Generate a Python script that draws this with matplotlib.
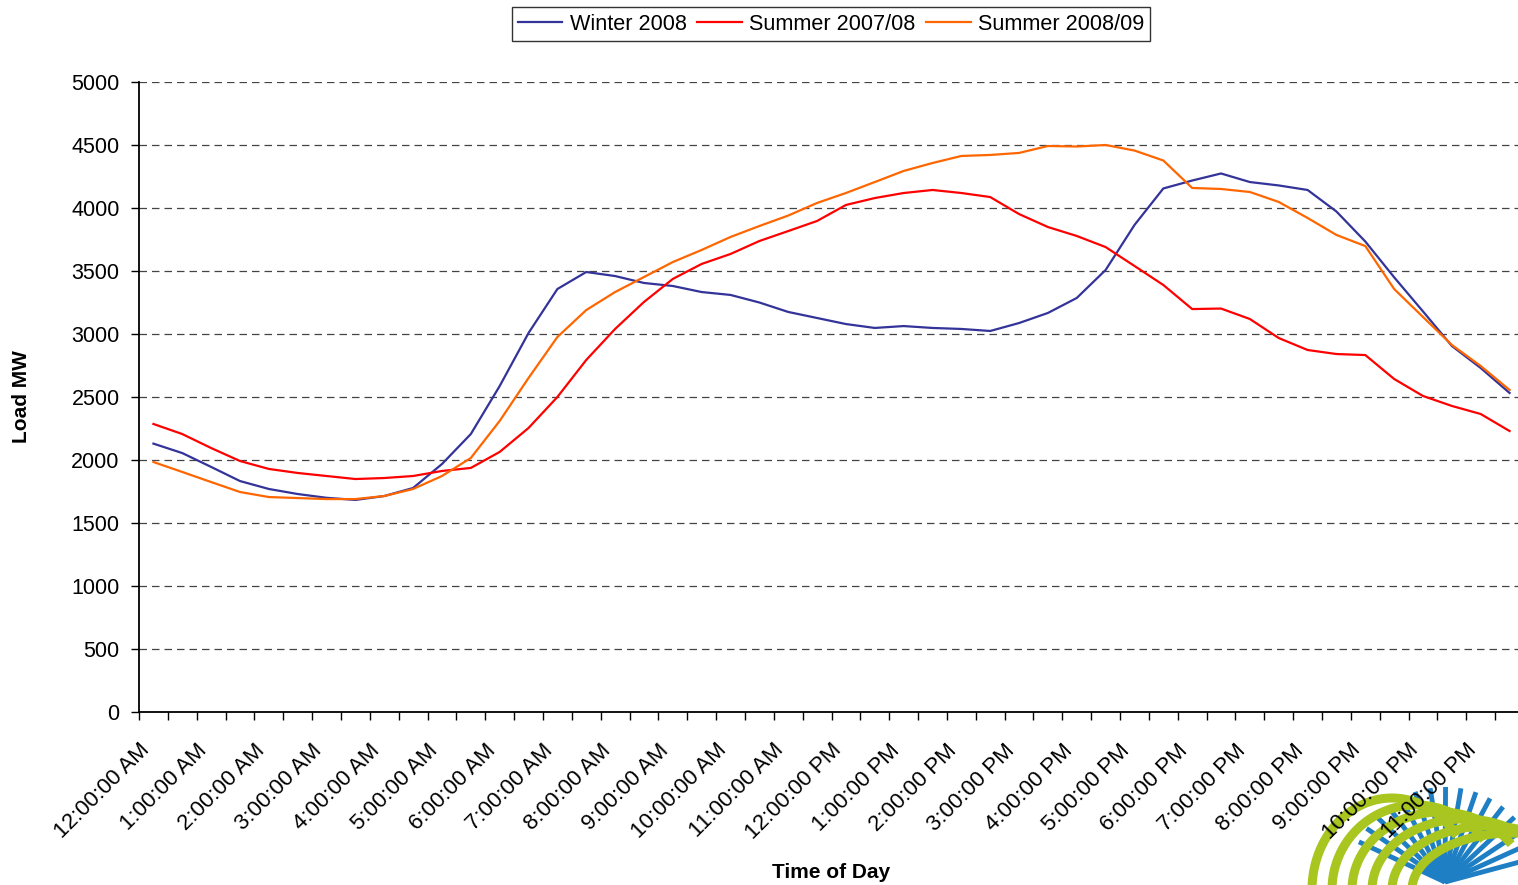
import numpy as np
import matplotlib
matplotlib.use("Agg")
from matplotlib import pyplot as plt

plt.rcParams['font.family'] = ['Liberation Sans', 'DejaVu Sans']

# half-hourly load, MW (48 points, 12:00 AM .. 11:30 PM)
winter_2008 = [2130, 2055, 1945, 1833, 1770, 1730, 1700, 1683, 1714, 1778,
               1968, 2206, 2587, 3008, 3357, 3492, 3460, 3405, 3381, 3333,
               3310, 3250, 3175, 3127, 3079, 3048, 3063, 3048, 3040, 3024,
               3087, 3167, 3286, 3508, 3865, 4155, 4218, 4274, 4206, 4179,
               4143, 3972, 3734, 3450, 3179, 2905, 2730, 2532]
summer_0708 = [2286, 2206, 2095, 1992, 1929, 1897, 1873, 1849, 1857, 1873,
               1913, 1937, 2064, 2254, 2500, 2794, 3040, 3254, 3437, 3556,
               3635, 3738, 3817, 3897, 4024, 4079, 4119, 4143, 4119, 4087,
               3952, 3849, 3778, 3690, 3540, 3389, 3198, 3202, 3119, 2968,
               2873, 2841, 2833, 2643, 2508, 2429, 2365, 2230]
summer_0809 = [1984, 1905, 1825, 1746, 1706, 1698, 1690, 1690, 1714, 1770,
               1873, 2016, 2310, 2651, 2976, 3190, 3333, 3452, 3571, 3667,
               3770, 3857, 3940, 4040, 4119, 4206, 4294, 4357, 4413, 4421,
               4437, 4492, 4488, 4500, 4456, 4377, 4159, 4151, 4127, 4048,
               3921, 3786, 3698, 3357, 3135, 2913, 2746, 2556]

hour_labels = ["12:00:00 AM", "1:00:00 AM", "2:00:00 AM", "3:00:00 AM",
               "4:00:00 AM", "5:00:00 AM", "6:00:00 AM", "7:00:00 AM",
               "8:00:00 AM", "9:00:00 AM", "10:00:00 AM", "11:00:00 AM",
               "12:00:00 PM", "1:00:00 PM", "2:00:00 PM", "3:00:00 PM",
               "4:00:00 PM", "5:00:00 PM", "6:00:00 PM", "7:00:00 PM",
               "8:00:00 PM", "9:00:00 PM", "10:00:00 PM", "11:00:00 PM"]

series = [("Winter 2008", winter_2008, "#333399"),
          ("Summer 2007/08", summer_0708, "#ff0000"),
          ("Summer 2008/09", summer_0809, "#ff6600")]

W, H = 1518, 885
fig = plt.figure(figsize=(W / 100, H / 100), dpi=100)

# corner logo (decoration), drawn underneath the chart text
lx = fig.add_axes([1290 / W, 0, 228 / W, 105 / H], zorder=0)
lx.set_xlim(1290, 1518)
lx.set_ylim(885, 780)
lx.axis("off")
for ang in np.linspace(15, 155, 16):
    t = np.radians(ang)
    lx.plot([1445, 1445 + 95 * np.cos(t)], [882, 882 - 95 * np.sin(t)],
            color="#1f7fc4", lw=3.5, solid_capstyle="butt")
tt = np.linspace(0, np.pi * 0.8, 80)
for k in range(6):
    xc = 1392 + 24 * k
    a = 80 + 4 * k
    b = 92 - 7 * k
    lx.plot(xc - a * np.cos(tt), 890 - b * np.sin(tt),
            color="#a8c520", lw=6.5, solid_capstyle="butt")

ax = fig.add_axes([139 / W, 173 / H, 1385 / W, 630 / H], zorder=1)
ax.patch.set_alpha(0)

n = len(winter_2008)
x = np.arange(n) + 0.5
for name, vals, col in series:
    ax.plot(x, vals, color=col, lw=1.6, label=name, zorder=3)

ax.set_xlim(0, n)
ax.set_ylim(0, 5000)
ax.set_yticks(np.arange(0, 5001, 500))
ax.yaxis.grid(True, color="#444444", linestyle=(0, (6, 4)), lw=0.9)
ax.set_axisbelow(True)

# tick marks at category boundaries, labels on the hour
ax.set_xticks(np.arange(0, n + 1))
ax.set_xticklabels([])
ax.set_xticks(x[::2], minor=True)
ax.set_xticklabels(hour_labels, minor=True, rotation=45, ha="right",
                   va="top", fontsize=16)
ax.tick_params(axis="x", which="major", length=6, width=1, direction="out")
ax.tick_params(axis="x", which="minor", length=0, pad=20)
ax.tick_params(axis="y", length=6, width=1, labelsize=15.5, pad=8)

for s in ["top", "right"]:
    ax.spines[s].set_visible(False)
ax.spines["left"].set_linewidth(1.3)
ax.spines["bottom"].set_linewidth(1.3)

fig.text(22 / W, 1 - 397 / H, "Load MW", rotation=90, ha="center",
         va="center", fontsize=15, fontweight="bold")
fig.text(831 / W, 1 - 872 / H, "Time of Day", ha="center", va="center",
         fontsize=15, fontweight="bold")

leg = fig.legend(loc="center", bbox_to_anchor=(831 / W, 1 - 24 / H), ncol=3,
                 fontsize=15.6, frameon=True, fancybox=False,
                 handlelength=2.05, handletextpad=0.33, columnspacing=0.5,
                 borderpad=0.3)
leg.get_frame().set_edgecolor("black")
leg.get_frame().set_linewidth(1.0)

fig.savefig("out.png", dpi=100)
